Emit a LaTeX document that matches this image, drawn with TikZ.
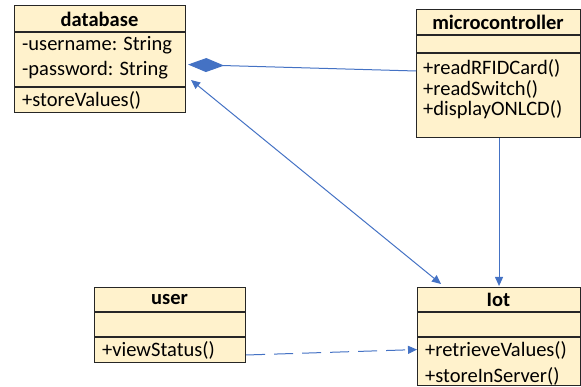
\documentclass[tikz,border=0pt]{standalone}
\usepackage{fontspec}
\setmainfont{Carlito}
\usetikzlibrary{arrows.meta}
\definecolor{cream}{HTML}{FFF2CC}
\definecolor{lineblue}{HTML}{4472C4}
\tikzset{
  classbox/.style={draw=black!85, line width=1.1pt, fill=cream, anchor=north west, inner sep=0pt},
  sep/.style={draw=black!85, line width=1.1pt},
  ttl/.style={font=\fontsize{20.5}{22}\selectfont\bfseries, inner sep=0pt, anchor=center},
  txt/.style={font=\fontsize{20.5}{22}\selectfont, inner sep=0pt, anchor=west},
  conn/.style={draw=lineblue, line width=1pt},
  tip/.style={-{Triangle[length=9pt,width=8pt]}}
}
\begin{document}
\begin{tikzpicture}[x=1pt,y=-1pt]
\useasboundingbox (0,0) rectangle (581,387);
% database
\node[classbox, minimum width=171pt, minimum height=107pt] (db) at (14,5) {};
\draw[sep] (14,32) -- (185,32);
\draw[sep] (14,87) -- (185,87);
\node[ttl] (dbt) at (99.5,19) {database};
\node[txt] (dba1) at (22,45) {-username: String};
\node[txt] (dba2) at (22,70) {-password: String};
\node[txt] (dbm1) at (22,100) {+storeValues()};
% microcontroller
\node[classbox, minimum width=164pt, minimum height=128pt] (mc) at (416,9) {};
\draw[sep] (416,35) -- (580,35);
\draw[sep] (416,53) -- (580,53);
\node[ttl] (mct) at (498,22) {microcontroller};
\node[txt] (mcm1) at (423,68) {+readRFIDCard()};
\node[txt] (mcm2) at (423,89) {+readSwitch()};
\node[txt] (mcm3) at (423,110) {+displayONLCD()};
% user
\node[classbox, minimum width=151pt, minimum height=75pt] (us) at (94,287) {};
\draw[sep] (94,312) -- (245,312);
\draw[sep] (94,337) -- (245,337);
\node[ttl] (ust) at (169.5,300) {user};
\node[txt] (usm1) at (102,350) {+viewStatus()};
% Iot
\node[classbox, minimum width=163pt, minimum height=98pt] (iot) at (417,287) {};
\draw[sep] (417,312) -- (580,312);
\draw[sep] (417,337) -- (580,337);
\node[ttl] (iott) at (498.5,300) {Iot};
\node[txt] (iotm1) at (425,350) {+retrieveValues()};
\node[txt] (iotm2) at (425,376) {+storeInServer()};
% connectors
\draw[conn, {Diamond[length=36pt,width=14pt,fill=lineblue]}-] ([xshift=2pt,yshift=-5.5pt]db.east) -- ([yshift=-3pt]mc.west |- mcm1.west);
\draw[conn, {Triangle[length=9pt,width=8pt]}-{Triangle[length=9pt,width=8pt]}] ([xshift=5pt,yshift=-21pt]db.east) -- ([xshift=-58pt,yshift=3pt]iot.north);
\draw[conn, tip] (mc.south -| iot.north) -- ([yshift=1pt]iot.north);
\draw[conn, tip, dash pattern=on 19pt off 9pt] ([yshift=-5pt]us.east |- usm1.west) -- ([yshift=-13pt]iot.west);
\end{tikzpicture}
\end{document}
